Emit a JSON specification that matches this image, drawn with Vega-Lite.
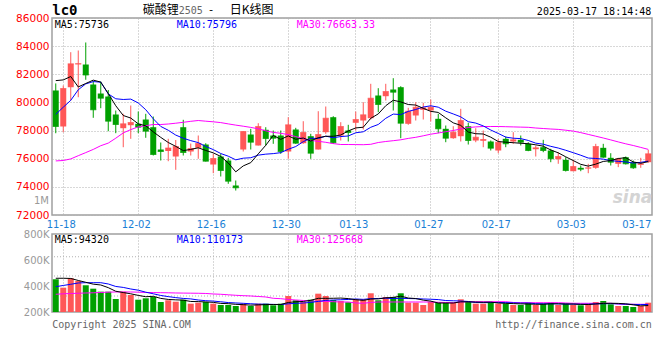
{
"$schema": "https://vega.github.io/schema/vega-lite/v6.json",
"background": "white",
"padding": {"left": 14, "top": 2, "right": 0, "bottom": 0},
"spacing": 19,
"bounds": "flush",
"config": {
  "view": {"stroke": "#a0a0a0", "strokeWidth": 1.5},
  "axis": {"domain": false, "ticks": false, "gridColor": "#b0b0b0", "gridDash": [1, 2], "gridWidth": 1, "labelFlush": false, "labelBound": false}
},
"datasets": {
"k": [
{"d":"2024-11-15","o":80850,"h":81350,"l":77810,"c":78290,"v":451800,"m5":81550,"m10":79150,"m30":75844,"vm5":459500,"vm10":394800,"vm30":336300},
{"d":"2024-11-18","o":78290,"h":81200,"l":77880,"c":80990,"v":387100,"m5":81600,"m10":79660,"m30":75873,"vm5":459500,"vm10":404100,"vm30":340100},
{"d":"2024-11-19","o":81080,"h":83570,"l":80140,"c":82745,"v":459500,"m5":81840,"m10":80150,"m30":75986,"vm5":458000,"vm10":413300,"vm30":342500},
{"d":"2024-11-20","o":82700,"h":83690,"l":80370,"c":82760,"v":438700,"m5":81100,"m10":80900,"m30":76214,"vm5":442600,"vm10":423300,"vm30":344000},
{"d":"2024-11-21","o":82695,"h":84260,"l":81610,"c":81949,"v":405600,"m5":81347,"m10":81320,"m30":76434,"vm5":428500,"vm10":425600,"vm30":346300},
{"d":"2024-11-22","o":81274,"h":81523,"l":78907,"c":79476,"v":379400,"m5":81584,"m10":81480,"m30":76661,"vm5":414100,"vm10":425600,"vm30":347800},
{"d":"2024-11-25","o":80634,"h":81487,"l":79589,"c":80300,"v":356300,"m5":81446,"m10":81440,"m30":76924,"vm5":407900,"vm10":425600,"vm30":350200},
{"d":"2024-11-26","o":80421,"h":80883,"l":77955,"c":78666,"v":356300,"m5":80630,"m10":80610,"m30":77109,"vm5":387300,"vm10":415600,"vm30":352500},
{"d":"2024-11-27","o":79142,"h":79426,"l":77813,"c":78431,"v":300100,"m5":79764,"m10":80260,"m30":77457,"vm5":359500,"vm10":396400,"vm30":354000},
{"d":"2024-11-28","o":78168,"h":79192,"l":76818,"c":78481,"v":356300,"m5":79071,"m10":80209,"m30":77834,"vm5":349700,"vm10":389100,"vm30":354000},
{"d":"2024-11-29","o":78381,"h":79781,"l":77415,"c":78573,"v":330900,"m5":78890,"m10":80237,"m30":78069,"vm5":340000,"vm10":377000,"vm30":354000},
{"d":"2024-12-02","o":78481,"h":79355,"l":77813,"c":78239,"v":294700,"m5":78478,"m10":79962,"m30":78260,"vm5":327700,"vm10":367800,"vm30":352500},
{"d":"2024-12-03","o":78786,"h":79192,"l":77486,"c":77955,"v":305500,"m5":78336,"m10":79483,"m30":78346,"vm5":317500,"vm10":352400,"vm30":350200},
{"d":"2024-12-04","o":78239,"h":79000,"l":76228,"c":76299,"v":315500,"m5":77909,"m10":78837,"m30":78431,"vm5":320600,"vm10":340100,"vm30":349400},
{"d":"2024-12-05","o":76654,"h":77152,"l":75873,"c":76512,"v":277000,"m5":77516,"m10":78293,"m30":78431,"vm5":304700,"vm10":327200,"vm30":348600},
{"d":"2024-12-06","o":76548,"h":77415,"l":75823,"c":76761,"v":290100,"m5":77153,"m10":78022,"m30":78467,"vm5":296600,"vm10":318300,"vm30":347800},
{"d":"2024-12-09","o":76157,"h":77330,"l":75211,"c":76868,"v":279300,"m5":76879,"m10":77679,"m30":78523,"vm5":293500,"vm10":310600,"vm30":346300},
{"d":"2024-12-10","o":78239,"h":78765,"l":76228,"c":76441,"v":294700,"m5":76576,"m10":77456,"m30":78587,"vm5":291300,"vm10":304400,"vm30":345500},
{"d":"2024-12-11","o":76512,"h":77080,"l":76228,"c":76725,"v":263900,"m5":76661,"m10":77285,"m30":78658,"vm5":281000,"vm10":300800,"vm30":344800},
{"d":"2024-12-12","o":76775,"h":77649,"l":75993,"c":77080,"v":271600,"m5":76775,"m10":77145,"m30":78715,"vm5":279900,"vm10":292300,"vm30":344000},
{"d":"2024-12-13","o":77009,"h":77100,"l":75800,"c":75823,"v":277000,"m5":76587,"m10":76870,"m30":78666,"vm5":277300,"vm10":286900,"vm30":342500},
{"d":"2024-12-16","o":75588,"h":76349,"l":74970,"c":76015,"v":263900,"m5":76417,"m10":76648,"m30":78623,"vm5":274200,"vm10":283900,"vm30":338600},
{"d":"2024-12-17","o":76157,"h":76349,"l":74735,"c":75162,"v":253900,"m5":76161,"m10":76369,"m30":78566,"vm5":266100,"vm10":278700,"vm30":336300},
{"d":"2024-12-18","o":75873,"h":76064,"l":74217,"c":74401,"v":253900,"m5":75696,"m10":76179,"m30":78474,"vm5":264100,"vm10":272500,"vm30":332400},
{"d":"2024-12-19","o":74096,"h":74451,"l":73740,"c":73932,"v":246200,"m5":75067,"m10":75921,"m30":78388,"vm5":259000,"vm10":269500,"vm30":328600},
{"d":"2024-12-20","o":76654,"h":77970,"l":76512,"c":77934,"v":263900,"m5":75489,"m10":76038,"m30":78310,"vm5":256400,"vm10":266800,"vm30":325500},
{"d":"2024-12-23","o":77720,"h":78125,"l":76654,"c":77173,"v":246200,"m5":75720,"m10":76069,"m30":78225,"vm5":252800,"vm10":263500,"vm30":323200},
{"d":"2024-12-24","o":76939,"h":78523,"l":76939,"c":78289,"v":263900,"m5":76346,"m10":76253,"m30":78125,"vm5":254800,"vm10":260400,"vm30":319400},
{"d":"2024-12-25","o":78054,"h":78239,"l":76939,"c":77436,"v":263900,"m5":76953,"m10":76325,"m30":77983,"vm5":256800,"vm10":260400,"vm30":315500},
{"d":"2024-12-26","o":77649,"h":78005,"l":77059,"c":77457,"v":251600,"m5":77658,"m10":76362,"m30":77870,"vm5":257900,"vm10":258400,"vm30":305500},
{"d":"2024-12-27","o":77649,"h":78005,"l":76349,"c":76512,"v":263900,"m5":77373,"m10":76431,"m30":77806,"vm5":257900,"vm10":257100,"vm30":302400},
{"d":"2024-12-30","o":76512,"h":78950,"l":75993,"c":78410,"v":323200,"m5":77621,"m10":76671,"m30":77713,"vm5":273300,"vm10":263100,"vm30":296300},
{"d":"2024-12-31","o":78076,"h":78196,"l":77059,"c":77102,"v":290100,"m5":77383,"m10":76865,"m30":77571,"vm5":278500,"vm10":266700,"vm30":292400},
{"d":"2025-01-02","o":77102,"h":78665,"l":77059,"c":77863,"v":277000,"m5":77469,"m10":77211,"m30":77429,"vm5":281200,"vm10":269000,"vm30":288600},
{"d":"2025-01-03","o":77600,"h":77770,"l":75993,"c":76391,"v":294700,"m5":77256,"m10":77457,"m30":77301,"vm5":289800,"vm10":273800,"vm30":284700},
{"d":"2025-01-06","o":76654,"h":79376,"l":76654,"c":77720,"v":340900,"m5":77497,"m10":77435,"m30":77237,"vm5":305200,"vm10":281500,"vm30":282400},
{"d":"2025-01-07","o":77884,"h":79710,"l":77770,"c":78879,"v":323200,"m5":77591,"m10":77606,"m30":77166,"vm5":305200,"vm10":289200,"vm30":280900},
{"d":"2025-01-08","o":78950,"h":79021,"l":77059,"c":77130,"v":292400,"m5":77597,"m10":77490,"m30":77074,"vm5":305600,"vm10":292100,"vm30":279300},
{"d":"2025-01-09","o":77649,"h":78594,"l":77294,"c":78289,"v":284700,"m5":77682,"m10":77575,"m30":77010,"vm5":307200,"vm10":294200,"vm30":277000},
{"d":"2025-01-10","o":78005,"h":78410,"l":77223,"c":77863,"v":274700,"m5":77976,"m10":77616,"m30":77010,"vm5":303200,"vm10":296500,"vm30":277000},
{"d":"2025-01-13","o":78552,"h":79355,"l":78005,"c":78786,"v":297800,"m5":78189,"m10":77843,"m30":77003,"vm5":294600,"vm10":299900,"vm30":269300},
{"d":"2025-01-14","o":78715,"h":80016,"l":78076,"c":79120,"v":297800,"m5":78238,"m10":77914,"m30":76995,"vm5":289500,"vm10":297300,"vm30":267000},
{"d":"2025-01-15","o":78879,"h":81324,"l":78786,"c":80300,"v":344000,"m5":78872,"m10":78234,"m30":77024,"vm5":299800,"vm10":302700,"vm30":273200},
{"d":"2025-01-16","o":80492,"h":81011,"l":79305,"c":79853,"v":290100,"m5":79184,"m10":78433,"m30":77152,"vm5":300900,"vm10":304000,"vm30":277000},
{"d":"2025-01-17","o":80442,"h":81324,"l":80137,"c":80776,"v":315500,"m5":79767,"m10":78872,"m30":77223,"vm5":309000,"vm10":306100,"vm30":277000},
{"d":"2025-01-20","o":80918,"h":81722,"l":79426,"c":80727,"v":315500,"m5":80155,"m10":79172,"m30":77280,"vm5":312600,"vm10":303600,"vm30":277000},
{"d":"2025-01-21","o":81082,"h":81153,"l":77457,"c":78523,"v":344000,"m5":80036,"m10":79137,"m30":77344,"vm5":321800,"vm10":305600,"vm30":277000},
{"d":"2025-01-22","o":78481,"h":79618,"l":78410,"c":79376,"v":271600,"m5":79851,"m10":79361,"m30":77443,"vm5":307300,"vm10":303600,"vm30":277000},
{"d":"2025-01-23","o":79071,"h":80016,"l":78715,"c":79660,"v":271600,"m5":79812,"m10":79498,"m30":77521,"vm5":303600,"vm10":302300,"vm30":277000},
{"d":"2025-01-24","o":79476,"h":79973,"l":78786,"c":79618,"v":253900,"m5":79581,"m10":79674,"m30":77628,"vm5":291300,"vm10":300200,"vm30":277000},
{"d":"2025-01-27","o":79426,"h":80208,"l":78644,"c":79660,"v":277000,"m5":79367,"m10":79761,"m30":77742,"vm5":283600,"vm10":298100,"vm30":277000},
{"d":"2025-02-05","o":78836,"h":79192,"l":77813,"c":78125,"v":271600,"m5":79288,"m10":79662,"m30":77827,"vm5":269100,"vm10":295500,"vm30":274700},
{"d":"2025-02-06","o":78125,"h":78360,"l":77173,"c":77457,"v":271600,"m5":78904,"m10":79378,"m30":77919,"vm5":269100,"vm10":288200,"vm30":273200},
{"d":"2025-02-07","o":77457,"h":78310,"l":77415,"c":77884,"v":271600,"m5":78549,"m10":79181,"m30":78005,"vm5":269100,"vm10":286400,"vm30":271600},
{"d":"2025-02-10","o":77600,"h":79547,"l":77223,"c":78715,"v":297800,"m5":78368,"m10":78975,"m30":78111,"vm5":277900,"vm10":284600,"vm30":277000},
{"d":"2025-02-11","o":78310,"h":78552,"l":77009,"c":77294,"v":277000,"m5":77895,"m10":78631,"m30":78218,"vm5":277900,"vm10":280800,"vm30":279300},
{"d":"2025-02-12","o":77294,"h":78168,"l":77173,"c":77528,"v":263900,"m5":77776,"m10":78532,"m30":78260,"vm5":276400,"vm10":272800,"vm30":279300},
{"d":"2025-02-13","o":77273,"h":78005,"l":76818,"c":77365,"v":263900,"m5":77757,"m10":78331,"m30":78289,"vm5":274800,"vm10":272000,"vm30":279300},
{"d":"2025-02-14","o":77223,"h":77294,"l":76583,"c":76747,"v":277000,"m5":77530,"m10":78039,"m30":78289,"vm5":275900,"vm10":272500,"vm30":279300},
{"d":"2025-02-17","o":76583,"h":77415,"l":76391,"c":77173,"v":263900,"m5":77221,"m10":77795,"m30":78289,"vm5":269100,"vm10":273500,"vm30":279300},
{"d":"2025-02-18","o":77415,"h":77578,"l":76818,"c":77059,"v":263900,"m5":77174,"m10":77535,"m30":78275,"vm5":266500,"vm10":272200,"vm30":279300},
{"d":"2025-02-19","o":77223,"h":77884,"l":77059,"c":77344,"v":253900,"m5":77138,"m10":77457,"m30":78260,"vm5":264500,"vm10":270500,"vm30":273200},
{"d":"2025-02-20","o":77344,"h":77649,"l":76939,"c":77173,"v":253900,"m5":77099,"m10":77428,"m30":78246,"vm5":262500,"vm10":268700,"vm30":271600},
{"d":"2025-02-21","o":77059,"h":77173,"l":76533,"c":76583,"v":271600,"m5":77066,"m10":77298,"m30":78232,"vm5":261400,"vm10":268700,"vm30":271600},
{"d":"2025-02-24","o":76676,"h":76939,"l":76157,"c":76775,"v":253900,"m5":76987,"m10":77104,"m30":78182,"vm5":259400,"vm10":264300,"vm30":271600},
{"d":"2025-02-25","o":76818,"h":77344,"l":76462,"c":76583,"v":263900,"m5":76892,"m10":77033,"m30":78147,"vm5":259400,"vm10":263000,"vm30":271600},
{"d":"2025-02-26","o":76583,"h":76704,"l":75752,"c":75993,"v":271600,"m5":76621,"m10":76880,"m30":78111,"vm5":263000,"vm10":263800,"vm30":271600},
{"d":"2025-02-27","o":75965,"h":76462,"l":75638,"c":76157,"v":253900,"m5":76418,"m10":76759,"m30":78083,"vm5":263000,"vm10":262800,"vm30":271600},
{"d":"2025-02-28","o":75922,"h":76107,"l":75091,"c":75162,"v":263900,"m5":76134,"m10":76600,"m30":78026,"vm5":261400,"vm10":261400,"vm30":269300},
{"d":"2025-03-03","o":75112,"h":75922,"l":75112,"c":75446,"v":253900,"m5":75868,"m10":76428,"m30":77962,"vm5":261400,"vm10":260400,"vm30":267000},
{"d":"2025-03-04","o":75353,"h":75517,"l":75112,"c":75254,"v":251600,"m5":75602,"m10":76247,"m30":77855,"vm5":259000,"vm10":259200,"vm30":267000},
{"d":"2025-03-05","o":75304,"h":75638,"l":74970,"c":75353,"v":263900,"m5":75474,"m10":76048,"m30":77727,"vm5":257400,"vm10":260200,"vm30":267000},
{"d":"2025-03-06","o":75353,"h":77059,"l":75282,"c":76868,"v":277000,"m5":75617,"m10":76017,"m30":77600,"vm5":262100,"vm10":262500,"vm30":267000},
{"d":"2025-03-07","o":76775,"h":77059,"l":76064,"c":76107,"v":284700,"m5":75806,"m10":75970,"m30":77472,"vm5":266200,"vm10":263800,"vm30":267000},
{"d":"2025-03-10","o":76064,"h":76391,"l":75517,"c":75752,"v":259300,"m5":75867,"m10":75868,"m30":77336,"vm5":267300,"vm10":264400,"vm30":267000},
{"d":"2025-03-11","o":75638,"h":76064,"l":75399,"c":75993,"v":246200,"m5":76015,"m10":75809,"m30":77194,"vm5":266200,"vm10":262600,"vm30":261600},
{"d":"2025-03-12","o":76107,"h":76157,"l":75588,"c":75638,"v":246200,"m5":76072,"m10":75773,"m30":77059,"vm5":262700,"vm10":260100,"vm30":259300},
{"d":"2025-03-13","o":75752,"h":75873,"l":75282,"c":75353,"v":238500,"m5":75769,"m10":75693,"m30":76939,"vm5":255000,"vm10":258500,"vm30":259300},
{"d":"2025-03-14","o":75567,"h":76064,"l":75353,"c":75638,"v":246200,"m5":75675,"m10":75740,"m30":76803,"vm5":247300,"vm10":256700,"vm30":259300},
{"d":"2025-03-17","o":75752,"h":76633,"l":75709,"c":76349,"v":271600,"m5":75794,"m10":75831,"m30":76663,"vm5":249700,"vm10":258500,"vm30":259300}
]
},
"vconcat": [
{
  "width": 600,
  "height": 197,
  "encoding": {
    "y": {"type": "quantitative",
          "scale": {"domain": [72000, 86000], "zero": false, "nice": false},
          "axis": {"title": null, "values": [72000,74000,76000,78000,80000,82000,84000,86000], "format": "d", "labelOverlap": false,
                   "labelColor": "#ff0000", "labelFont": "DejaVu Sans", "labelFontSize": 10.5, "labelPadding": 3, "grid": true}}
  },
  "layer": [
    {
      "data": {"name": "k"},
      "mark": {"type": "rule", "strokeWidth": 1},
      "encoding": {
        "x": {"field": "d", "type": "ordinal", "bandPosition": 0.5,
              "scale": {"type": "band", "paddingInner": 0, "paddingOuter": 0},
              "axis": {"title": null, "values": ["2024-11-18","2024-12-02","2024-12-16","2024-12-30","2025-01-13","2025-01-27","2025-02-17","2025-03-03","2025-03-17"],
                       "labelExpr": "substring(datum.label, 5)", "labelAngle": 0, "labelColor": "#1a7fd6", "labelFont": "DejaVu Sans", "labelFontSize": 10, "labelPadding": 4, "labelOverlap": false,
                       "labelAlign": {"condition": {"test": "datum.value === '2025-03-17'", "value": "right"}, "value": "center"},
                       "labelOffset": {"condition": {"test": "datum.value === '2025-03-17'", "value": 3}, "value": -2},
                       "grid": true,
                       "gridOpacity": {"condition": {"test": "datum.value === '2025-03-17'", "value": 0}, "value": 1}}},
        "y": {"field": "l"},
        "y2": {"field": "h"},
        "color": {"condition": {"test": "datum.c >= datum.o", "value": "#ff5757"}, "value": "#00a000"}
      }
    },
    {
      "data": {"name": "k"},
      "mark": {"type": "bar", "width": 6},
      "encoding": {
        "x": {"field": "d", "type": "ordinal"},
        "y": {"field": "o"},
        "y2": {"field": "c"},
        "color": {"condition": {"test": "datum.c >= datum.o", "value": "#ff5757"}, "value": "#00a000"}
      }
    },
    {
      "data": {"name": "k"},
      "mark": {"type": "tick", "thickness": 1, "size": 6},
      "encoding": {
        "x": {"field": "d", "type": "ordinal", "bandPosition": 0.5},
        "y": {"field": "c"},
        "color": {"condition": {"test": "datum.c >= datum.o", "value": "#ff5757"}, "value": "#00a000"}
      }
    },
    {
      "data": {"name": "k"},
      "mark": {"type": "line", "color": "#ff00ff", "strokeWidth": 1},
      "encoding": {"x": {"field": "d", "type": "ordinal", "bandPosition": 0.5}, "y": {"field": "m30"}}
    },
    {
      "data": {"name": "k"},
      "mark": {"type": "line", "color": "#0000ff", "strokeWidth": 1},
      "encoding": {"x": {"field": "d", "type": "ordinal", "bandPosition": 0.5}, "y": {"field": "m10"}}
    },
    {
      "data": {"name": "k"},
      "mark": {"type": "line", "color": "#000000", "strokeWidth": 1},
      "encoding": {"x": {"field": "d", "type": "ordinal", "bandPosition": 0.5}, "y": {"field": "m5"}}
    },
    {
      "data": {"values": [{}]},
      "mark": {"type": "text", "text": "MA5:75736", "font": "DejaVu Sans Mono", "fontSize": 10, "align": "left", "baseline": "middle", "color": "#000000", "dx": -1, "dy": 6.5},
      "encoding": {"x": {"datum": "2024-11-15", "type": "ordinal"}, "y": {"datum": 86000}}
    },
    {
      "data": {"values": [{}]},
      "mark": {"type": "text", "text": "MA10:75796", "font": "DejaVu Sans Mono", "fontSize": 10, "align": "left", "baseline": "middle", "color": "#0000ff", "dx": 121, "dy": 6.5},
      "encoding": {"x": {"datum": "2024-11-15", "type": "ordinal"}, "y": {"datum": 86000}}
    },
    {
      "data": {"values": [{}]},
      "mark": {"type": "text", "text": "MA30:76663.33", "font": "DejaVu Sans Mono", "fontSize": 10, "align": "left", "baseline": "middle", "color": "#ff00ff", "dx": 241, "dy": 6.5},
      "encoding": {"x": {"datum": "2024-11-15", "type": "ordinal"}, "y": {"datum": 86000}}
    },
    {
      "data": {"values": [{}]},
      "mark": {"type": "text", "text": "lc0", "font": "DejaVu Sans Mono", "fontSize": 14, "fontWeight": "bold", "align": "left", "baseline": "middle", "color": "#000000", "dx": -3.5, "dy": -7.5},
      "encoding": {"x": {"datum": "2024-11-15", "type": "ordinal"}, "y": {"datum": 86000}}
    },
    {
      "data": {"values": [{}]},
      "mark": {"type": "text", "text": "碳酸锂", "font": "Noto Sans CJK SC", "fontSize": 12, "align": "left", "baseline": "middle", "color": "#000000", "dx": 87, "dy": -8},
      "encoding": {"x": {"datum": "2024-11-15", "type": "ordinal"}, "y": {"datum": 86000}}
    },
    {
      "data": {"values": [{}]},
      "mark": {"type": "text", "text": "2505", "font": "DejaVu Sans Mono", "fontSize": 10, "align": "left", "baseline": "middle", "color": "#666666", "dx": 123, "dy": -7},
      "encoding": {"x": {"datum": "2024-11-15", "type": "ordinal"}, "y": {"datum": 86000}}
    },
    {
      "data": {"values": [{}]},
      "mark": {"type": "text", "text": "-", "font": "DejaVu Sans Mono", "fontSize": 11, "align": "left", "baseline": "middle", "color": "#000000", "dx": 152, "dy": -8},
      "encoding": {"x": {"datum": "2024-11-15", "type": "ordinal"}, "y": {"datum": 86000}}
    },
    {
      "data": {"values": [{}]},
      "mark": {"type": "text", "text": "日K线图", "font": "Noto Sans CJK SC", "fontSize": 12, "align": "left", "baseline": "middle", "color": "#000000", "dx": 174, "dy": -8},
      "encoding": {"x": {"datum": "2024-11-15", "type": "ordinal"}, "y": {"datum": 86000}}
    },
    {
      "data": {"values": [{}]},
      "mark": {"type": "text", "text": "2025-03-17 18:14:48", "font": "DejaVu Sans Mono", "fontSize": 10, "align": "right", "baseline": "middle", "color": "#000000", "dx": 3, "dy": -6},
      "encoding": {"x": {"datum": "2025-03-17", "type": "ordinal"}, "y": {"datum": 86000}}
    },
    {
      "data": {"values": [{}]},
      "mark": {"type": "text", "text": "sina", "font": "DejaVu Sans", "fontSize": 17, "fontStyle": "italic", "fontWeight": "bold", "align": "right", "baseline": "middle", "color": "#d4d4d4", "dx": 4, "dy": -17},
      "encoding": {"x": {"datum": "2025-03-17", "type": "ordinal"}, "y": {"datum": 72000}}
    }
  ]
},
{
  "width": 600,
  "height": 78,
  "encoding": {
    "y": {"type": "quantitative",
          "scale": {"domain": [200000, 800000], "zero": false, "nice": false},
          "axis": {"title": null, "values": [200000, 400000, 600000, 800000], "labelOverlap": false,
                   "labelExpr": "(datum.value / 1000) + 'K'",
                   "labelColor": "#999999", "labelFont": "DejaVu Sans", "labelFontSize": 10, "labelPadding": 3, "grid": false}}
  },
  "layer": [
    {
      "data": {"values": [{}]},
      "mark": {"type": "rule", "color": "#b0b0b0", "strokeDash": [1, 2], "strokeWidth": 1},
      "encoding": {"y": {"datum": 323000}}
    },
    {
      "data": {"values": [{}]},
      "mark": {"type": "rule", "color": "#b0b0b0", "strokeDash": [1, 2], "strokeWidth": 1},
      "encoding": {"y": {"datum": 477000}}
    },
    {
      "data": {"values": [{}]},
      "mark": {"type": "rule", "color": "#b0b0b0", "strokeDash": [1, 2], "strokeWidth": 1},
      "encoding": {"y": {"datum": 625000}}
    },
    {
      "data": {"name": "k"},
      "mark": {"type": "bar", "width": 6},
      "encoding": {
        "x": {"field": "d", "type": "ordinal",
              "scale": {"type": "band", "paddingInner": 0, "paddingOuter": 0},
              "axis": {"title": null, "values": ["2024-11-18","2024-12-02","2024-12-16","2024-12-30","2025-01-13","2025-01-27","2025-02-17","2025-03-03","2025-03-17"],
                       "labels": false, "grid": true,
                       "gridOpacity": {"condition": {"test": "datum.value === '2025-03-17'", "value": 0}, "value": 1}}},
        "y": {"field": "v"},
        "y2": {"datum": 200000},
        "color": {"condition": {"test": "datum.c >= datum.o", "value": "#ff5757"}, "value": "#00a000"}
      }
    },
    {
      "data": {"name": "k"},
      "mark": {"type": "line", "color": "#ff00ff", "strokeWidth": 1},
      "encoding": {"x": {"field": "d", "type": "ordinal", "bandPosition": 0.5}, "y": {"field": "vm30"}}
    },
    {
      "data": {"name": "k"},
      "mark": {"type": "line", "color": "#0000ff", "strokeWidth": 1},
      "encoding": {"x": {"field": "d", "type": "ordinal", "bandPosition": 0.5}, "y": {"field": "vm10"}}
    },
    {
      "data": {"name": "k"},
      "mark": {"type": "line", "color": "#000000", "strokeWidth": 1},
      "encoding": {"x": {"field": "d", "type": "ordinal", "bandPosition": 0.5}, "y": {"field": "vm5"}}
    },
    {
      "data": {"values": [{}]},
      "mark": {"type": "text", "text": "1M", "font": "DejaVu Sans", "fontSize": 10, "align": "right", "baseline": "middle", "color": "#999999", "dx": -6.75, "dy": -7},
      "encoding": {"x": {"datum": "2024-11-15", "type": "ordinal"}, "y": {"datum": 1000000}}
    },
    {
      "data": {"values": [{}]},
      "mark": {"type": "text", "text": "MA5:94320", "font": "DejaVu Sans Mono", "fontSize": 10, "align": "left", "baseline": "middle", "color": "#000000", "dx": -1, "dy": 6},
      "encoding": {"x": {"datum": "2024-11-15", "type": "ordinal"}, "y": {"datum": 800000}}
    },
    {
      "data": {"values": [{}]},
      "mark": {"type": "text", "text": "MA10:110173", "font": "DejaVu Sans Mono", "fontSize": 10, "align": "left", "baseline": "middle", "color": "#0000ff", "dx": 121, "dy": 6},
      "encoding": {"x": {"datum": "2024-11-15", "type": "ordinal"}, "y": {"datum": 800000}}
    },
    {
      "data": {"values": [{}]},
      "mark": {"type": "text", "text": "MA30:125668", "font": "DejaVu Sans Mono", "fontSize": 10, "align": "left", "baseline": "middle", "color": "#ff00ff", "dx": 241, "dy": 6},
      "encoding": {"x": {"datum": "2024-11-15", "type": "ordinal"}, "y": {"datum": 800000}}
    },
    {
      "data": {"values": [{}]},
      "mark": {"type": "text", "text": "Copyright 2025 SINA.COM", "font": "DejaVu Sans Mono", "fontSize": 10, "align": "left", "baseline": "middle", "color": "#666666", "dx": -3.5, "dy": 12.5},
      "encoding": {"x": {"datum": "2024-11-15", "type": "ordinal"}, "y": {"datum": 200000}}
    },
    {
      "data": {"values": [{}]},
      "mark": {"type": "text", "text": "http://finance.sina.com.cn", "font": "DejaVu Sans Mono", "fontSize": 10, "align": "right", "baseline": "middle", "color": "#666666", "dx": 3.5, "dy": 12.5},
      "encoding": {"x": {"datum": "2025-03-17", "type": "ordinal"}, "y": {"datum": 200000}}
    }
  ]
}
]
}
